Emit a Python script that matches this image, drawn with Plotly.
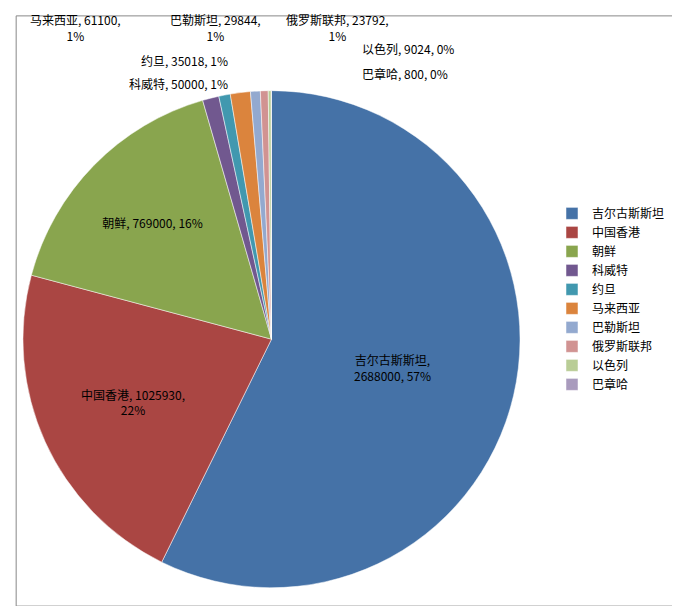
import plotly.graph_objects as go

labels = ["吉尔古斯斯坦", "中国香港", "朝鲜", "科威特", "约旦", "马来西亚", "巴勒斯坦", "俄罗斯联邦", "以色列", "巴章哈"]
values = [2688000, 1025930, 769000, 50000, 35018, 61100, 29844, 23792, 9024, 800]
pcts = ["57%", "22%", "16%", "1%", "1%", "1%", "1%", "1%", "0%", "0%"]
colors = ["#4572A7", "#AA4643", "#89A54E", "#71588F", "#4198AF", "#DB843D", "#93A9CF", "#D19392", "#B9CD96", "#A99BBD"]

texts = [
    f"{labels[0]},<br>{values[0]}, {pcts[0]}",
    f"{labels[1]}, {values[1]},<br>{pcts[1]}",
    f"{labels[2]}, {values[2]}, {pcts[2]}",
] + [""] * 7

fig = go.Figure(go.Pie(
    labels=labels, values=values, text=texts, textinfo="text",
    textposition="inside", insidetextorientation="horizontal",
    sort=False, direction="clockwise", rotation=0, automargin=False,
    marker=dict(colors=colors, line=dict(color="white", width=0.5)),
    textfont=dict(color="black", size=12, family="Noto Sans CJK SC"),
    domain=dict(x=[0.022, 0.753], y=[0.031, 0.876]),
    hoverinfo="label+value+percent",
))

# outside label placement (paper px from top-left) for small slices
outside = {
    3: (222, 75, "right", False),
    4: (222, 52, "right", False),
    5: (20, 20, "left", True),
    6: (160, 20, "left", True),
    7: (276, 20, "left", True),
    8: (352, 40, "left", False),
    9: (352, 65, "left", False),
}
anns = []
for i, (px, py, al, wrap) in outside.items():
    t = f"{labels[i]}, {values[i]},<br>{pcts[i]}" if wrap else f"{labels[i]}, {values[i]}, {pcts[i]}"
    anns.append(dict(x=px / 680, y=1 - py / 606, xref="paper", yref="paper", text=t,
                     showarrow=False, xanchor=al, yanchor="middle", align="center",
                     font=dict(size=12, color="black")))

fig.update_layout(
    width=680, height=606, margin=dict(l=0, r=0, t=0, b=0, autoexpand=False),
    paper_bgcolor="white", font=dict(family="Noto Sans CJK SC", size=12, color="black"),
    legend=dict(x=0.8, y=0.52, yanchor="middle", font=dict(size=12), tracegroupgap=0, itemwidth=30),
    annotations=anns,
    shapes=[dict(type="rect", xref="paper", yref="paper", x0=0.012, x1=0.982, y0=0.013, y1=0.987,
                 line=dict(color="#888888", width=1))],
)
fig.write_html("out.html")
